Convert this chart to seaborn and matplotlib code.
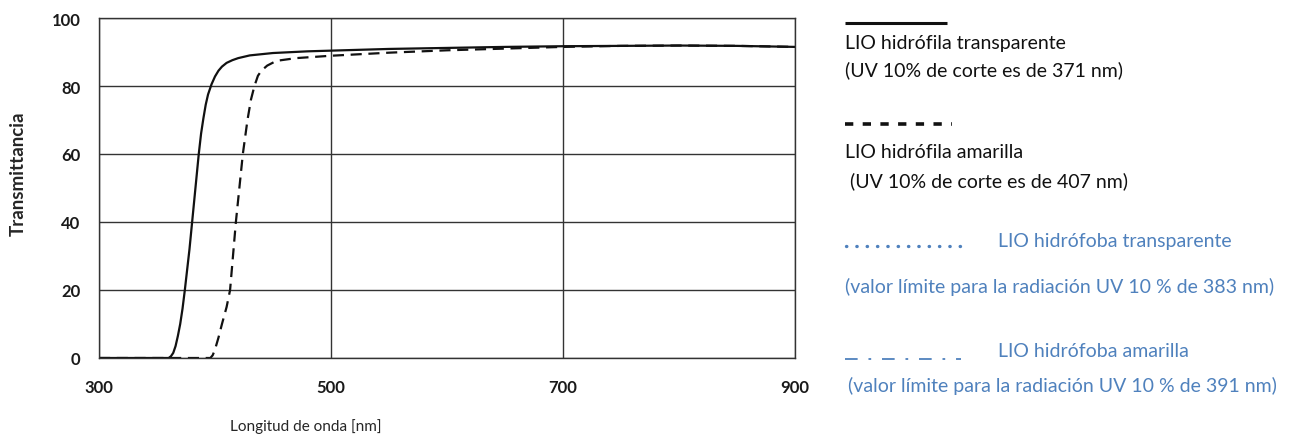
import matplotlib.pyplot as plt
from matplotlib.lines import Line2D
import numpy as np
import pandas as pd
import seaborn as sns


# Curva LIO hidrófila transparente (línea continua)
wl_transparente = [
    300, 355, 360, 362, 364, 366, 368, 370, 372, 374, 376, 378, 380, 382,
    384, 386, 388, 390, 392, 394, 397, 400, 403, 406, 410, 415, 420, 430,
    450, 480, 500, 550, 600, 650, 700, 750, 800, 850, 900,
]
t_transparente = [
    0, 0, 0, 0.5, 1.5, 3.5, 6.5, 10, 14.5, 20, 26, 32, 39, 46,
    53, 60, 66, 70.5, 74.5, 77.5, 80.5, 82.8, 84.5, 85.7, 86.8, 87.6, 88.2, 89.0,
    89.7, 90.2, 90.4, 90.9, 91.2, 91.5, 91.7, 91.8, 91.9, 91.8, 91.5,
]

# Curva LIO hidrófila amarilla (línea discontinua)
wl_amarilla = [
    300, 396, 398, 400, 403, 406, 410, 413, 415, 418, 421, 424, 428, 431,
    434, 437, 440, 445, 453, 470, 500, 550, 600, 650, 700, 750, 800, 850, 900,
]
t_amarilla = [
    0, 0, 0.8, 2.5, 6, 10, 15, 20, 28, 40, 50, 60, 70, 76,
    80, 83, 84.5, 86, 87.4, 88.2, 88.9, 89.8, 90.5, 91.0, 91.5, 91.8, 91.9, 91.8, 91.5,
]

x_ticks = [300, 500, 700, 900]
y_ticks = [0, 20, 40, 60, 80, 100]

series_names = ["transparente", "amarilla"]

sns.set_style("white")
plt.rcParams["font.family"] = ["Lato", "DejaVu Sans"]

data = pd.concat(
    [
        pd.DataFrame({"wl": wl_transparente, "t": t_transparente, "serie": series_names[0]}),
        pd.DataFrame({"wl": wl_amarilla, "t": t_amarilla, "serie": series_names[1]}),
    ],
    ignore_index=True,
)

W, H = 1296, 439

figure = plt.figure(
    figsize=(W / 100, H / 100),
    dpi=100,
)

axis = figure.add_axes([99 / W, 1 - 359 / H, 696 / W, 340 / H])

sns.lineplot(
    data=data,
    x="wl",
    y="t",
    hue="serie",
    style="serie",
    palette={"transparente": "#111111", "amarilla": "#111111"},
    dashes={"transparente": "", "amarilla": (5, 3)},
    linewidth=1.6,
    legend=False,
    ax=axis,
)

axis.set_xlim(300, 900)
axis.set_ylim(0, 100)
axis.set_xticks(x_ticks)
axis.set_yticks(y_ticks)

axis.grid(
    True,
    color="#333333",
    linewidth=1.0,
)

for spine in axis.spines.values():
    spine.set_visible(True)
    spine.set_color("#333333")
    spine.set_linewidth(1.0)

axis.tick_params(
    axis="both",
    length=0,
    labelsize=12,
    labelcolor="#1a1a1a",
)
axis.tick_params(axis="x", pad=15)
axis.tick_params(axis="y", pad=13.5)

for label in axis.get_xticklabels() + axis.get_yticklabels():
    label.set_fontweight("bold")

axis.set_xlabel("")
axis.set_ylabel("")

figure.text(
    18 / W,
    1 - 174 / H,
    "Transmittancia",
    fontsize=13.5,
    fontweight="bold",
    rotation=90,
    ha="center",
    va="center",
)

figure.text(
    306 / W,
    1 - 427 / H,
    "Longitud de onda [nm]",
    fontsize=11,
    ha="center",
    va="center",
)

# Leyenda a la derecha
black = "#111111"
blue = "#4f81bd"

legend_keys = [
    (845, 947, 24, black, 2.2, "-", "butt"),
    (845, 952, 125, black, 2.6, (0, (2.3, 2.6)), "butt"),
    (846, 961, 247, blue, 2.4, (0, (0.1, 3.0)), "round"),
    (845, 961, 360, blue, 1.3, (0, (7, 6, 1.5, 6)), "butt"),
]

for x0, x1, y_px, color, width, style, cap in legend_keys:
    figure.add_artist(
        Line2D(
            [x0 / W, x1 / W],
            [1 - y_px / H, 1 - y_px / H],
            transform=figure.transFigure,
            color=color,
            linewidth=width,
            linestyle=style,
            dash_capstyle=cap,
            solid_capstyle="butt",
        )
    )

legend_items = [
    (845, 43, "LIO hidrófila transparente", black),
    (845, 70, "(UV 10% de corte es de 371 nm)", black),
    (845, 153, "LIO hidrófila amarilla", black),
    (845, 181, " (UV 10% de corte es de 407 nm)", black),
    (998, 242, "LIO hidrófoba transparente", blue),
    (845, 287, "(valor límite para la radiación UV 10 % de 383 nm)", blue),
    (998, 352, "LIO hidrófoba amarilla", blue),
    (848, 386, "(valor límite para la radiación UV 10 % de 391 nm)", blue),
]

for x_px, y_px, text, color in legend_items:
    figure.text(
        x_px / W,
        1 - y_px / H,
        text,
        fontsize=14,
        color=color,
        ha="left",
        va="center",
    )

plt.savefig(
    "out.png",
    dpi=100,
)

plt.close()
